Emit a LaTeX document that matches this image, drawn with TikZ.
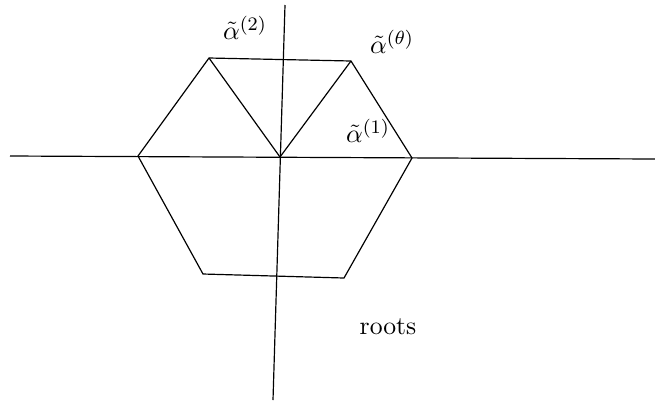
\documentclass[tikz,border=0pt]{standalone}
\begin{document}
\begin{tikzpicture}[x=0.42pt,y=-0.42pt,edge/.style={draw=black,line width=0.5pt},lbl/.style={inner sep=1pt,font=\fontsize{10.8}{13}\selectfont}]
\useasboundingbox (0,0) rectangle (655,403);
\coordinate (hl) at (10,156);
\coordinate (hr) at (655,159);
\coordinate (vt) at (285,5);
\coordinate (vb) at (273,400);
\coordinate (O) at (280,157);
\coordinate (p1) at (412,158);
\coordinate (p2) at (351,61);
\coordinate (p3) at (209,58);
\coordinate (p4) at (138,156);
\coordinate (p5) at (203,274);
\coordinate (p6) at (344,278);
\draw[edge] (hl) -- (hr);
\draw[edge] (vt) -- (vb);
\draw[edge] (p1) -- (p2) -- (p3) -- (p4) -- (p5) -- (p6) -- cycle;
\draw[edge] (p3) -- (O) -- (p2);
\node[lbl] (a2) at (245,28) {$\tilde\alpha^{(2)}$};
\node[lbl] (at) at (392,42) {$\tilde\alpha^{(\theta)}$};
\node[lbl] (a1) at (368,131) {$\tilde\alpha^{(1)}$};
\node[lbl] (r) at (388,327) {roots};
\end{tikzpicture}
\end{document}
